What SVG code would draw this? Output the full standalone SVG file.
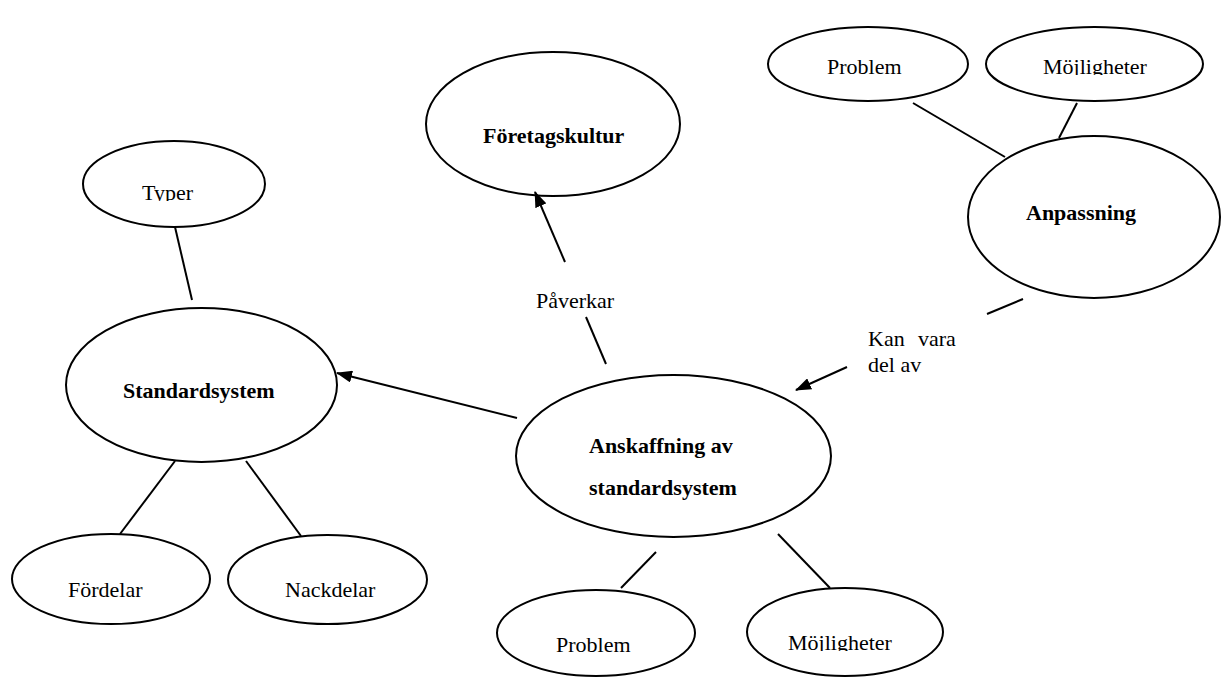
<svg xmlns="http://www.w3.org/2000/svg" width="1221" height="677" viewBox="0 0 1221 677">
<style>
.node ellipse{fill:none;stroke:#000;stroke-width:2}
.t{font-family:"Liberation Serif","Times New Roman",serif;font-size:22px;fill:#000}
.b{font-weight:bold}
.conn line{stroke:#000;stroke-width:2;fill:none}
</style>
<defs>
<marker id="ah" markerUnits="userSpaceOnUse" markerWidth="16" markerHeight="12" refX="15" refY="6" orient="auto">
<path d="M0,0 L16,6 L0,12 z" fill="#000"/>
</marker>
<clipPath id="cTyper"><rect x="80" y="140" width="190" height="61"/></clipPath>
<clipPath id="cMojTop"><rect x="986" y="25" width="220" height="50"/></clipPath>
<clipPath id="cMojBot"><rect x="745" y="585" width="200" height="66"/></clipPath>
</defs>
<rect width="1221" height="677" fill="#fff"/>
<g id="connectors" class="conn">
<line x1="913" y1="103" x2="1005" y2="157"/>
<line x1="1077" y1="103" x2="1059" y2="138"/>
<line x1="1023" y1="299" x2="987" y2="314"/>
<line x1="847" y1="367" x2="796" y2="390" marker-end="url(#ah)"/>
<line x1="586" y1="317" x2="606" y2="364"/>
<line x1="565" y1="262" x2="535" y2="192" marker-end="url(#ah)"/>
<line x1="517" y1="418" x2="337" y2="373" marker-end="url(#ah)"/>
<line x1="175" y1="227" x2="192" y2="300"/>
<line x1="175" y1="461" x2="120" y2="534"/>
<line x1="246" y1="461" x2="301" y2="536"/>
<line x1="656" y1="552" x2="621" y2="588"/>
<line x1="778" y1="534" x2="830" y2="588"/>
</g>
<g id="edge-labels">
<text class="t" x="536" y="308">Påverkar</text>
<text class="t" x="868" y="346">Kan</text>
<text class="t" x="918" y="346">vara</text>
<text class="t" x="868" y="372">del av</text>
</g>
<g id="foretagskultur" class="node">
<ellipse cx="553" cy="124" rx="127" ry="72"/>
<text class="t b" x="483" y="143">Företagskultur</text>
</g>
<g id="problem-top" class="node">
<ellipse cx="868" cy="64" rx="100" ry="37"/>
<text class="t" x="827" y="74">Problem</text>
</g>
<g id="mojligheter-top" class="node">
<ellipse cx="1094.5" cy="64" rx="108.5" ry="37"/>
<text class="t" x="1043" y="74" clip-path="url(#cMojTop)">Möjligheter</text>
</g>
<g id="anpassning" class="node">
<ellipse cx="1094" cy="217" rx="126" ry="81"/>
<text class="t b" x="1026" y="220">Anpassning</text>
</g>
<g id="typer" class="node">
<ellipse cx="174" cy="184" rx="91" ry="43"/>
<text class="t" x="142" y="200" clip-path="url(#cTyper)">Typer</text>
</g>
<g id="standardsystem" class="node">
<ellipse cx="201.5" cy="385" rx="135.5" ry="77"/>
<text class="t b" x="123" y="398">Standardsystem</text>
</g>
<g id="fordelar" class="node">
<ellipse cx="111" cy="579" rx="99" ry="45"/>
<text class="t" x="68" y="597">Fördelar</text>
</g>
<g id="nackdelar" class="node">
<ellipse cx="327.5" cy="579.5" rx="99.5" ry="44.5"/>
<text class="t" x="285" y="597">Nackdelar</text>
</g>
<g id="anskaffning" class="node">
<ellipse cx="673.5" cy="456" rx="157.5" ry="81"/>
<text class="t b" x="589" y="453">Anskaffning av</text>
<text class="t b" x="589" y="495">standardsystem</text>
</g>
<g id="problem-bottom" class="node">
<ellipse cx="596" cy="633" rx="99" ry="43"/>
<text class="t" x="556" y="652">Problem</text>
</g>
<g id="mojligheter-bottom" class="node">
<ellipse cx="845" cy="632" rx="98" ry="44"/>
<text class="t" x="788" y="650" clip-path="url(#cMojBot)">Möjligheter</text>
</g>
</svg>
